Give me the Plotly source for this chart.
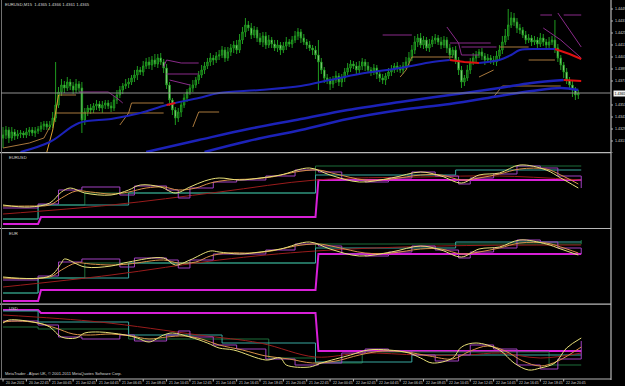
import plotly.graph_objects as go

# ---------------- DATA ----------------
# EURUSD M15 candles (bar index 0..197)
closes = [1.4323,1.4328,1.4320,1.4326,1.4322,1.4324,1.4325,1.4323,1.4326,1.4328,
          1.4325,1.4327,1.4329,1.4332,1.4334,1.4331,1.4333,1.4340,1.4353,1.4366,
          1.4373,1.4370,1.4376,1.4372,1.4368,1.4374,1.4370,1.4338,1.4346,1.4350,
          1.4348,1.4352,1.4354,1.4350,1.4353,1.4355,1.4352,1.4350,1.4358,1.4363,
          1.4368,1.4372,1.4374,1.4376,1.4380,1.4383,1.4388,1.4386,1.4392,1.4396,
          1.4393,1.4398,1.4394,1.4400,1.4396,1.4390,1.4373,1.4358,1.4348,1.4340,
          1.4346,1.4353,1.4360,1.4366,1.4370,1.4373,1.4378,1.4383,1.4388,1.4392,
          1.4396,1.4400,1.4398,1.4402,1.4403,1.4408,1.4400,1.4406,1.4410,1.4413,
          1.4408,1.4418,1.4426,1.4433,1.4430,1.4423,1.4428,1.4420,1.4416,1.4422,
          1.4413,1.4418,1.4414,1.4410,1.4413,1.4408,1.4412,1.4416,1.4414,1.4418,
          1.4422,1.4426,1.4420,1.4416,1.4413,1.4410,1.4408,1.4403,1.4396,1.4388,
          1.4380,1.4378,1.4374,1.4378,1.4382,1.4376,1.4380,1.4386,1.4390,1.4394,
          1.4392,1.4388,1.4392,1.4396,1.4392,1.4388,1.4386,1.4390,1.4384,1.4380,
          1.4378,1.4382,1.4386,1.4388,1.4392,1.4390,1.4388,1.4392,1.4396,1.4400,
          1.4408,1.4416,1.4420,1.4413,1.4418,1.4410,1.4414,1.4418,1.4420,1.4416,
          1.4413,1.4418,1.4410,1.4403,1.4408,1.4398,1.4388,1.4376,1.4380,1.4388,
          1.4396,1.4400,1.4403,1.4406,1.4402,1.4398,1.4400,1.4398,1.4396,1.4402,
          1.4408,1.4416,1.4422,1.4433,1.4440,1.4436,1.4430,1.4428,1.4423,1.4418,
          1.4420,1.4416,1.4418,1.4414,1.4420,1.4416,1.4413,1.4416,1.4418,1.4410,
          1.4400,1.4393,1.4386,1.4378,1.4373,1.4368,1.4363,1.4365]
first_open = 1.4320
wick_up = [8,4,3,5,3,4,3,2,4,3, 3,4,3,4,3,3,4,6,43,5, 6,4,5,3,4,5,3,6,4,3,
           4,3,4,3,4,3,3,4,4,5, 4,3,5,4,3,5,4,3,5,4, 5,4,6,4,5,3,4,3,2,3,
           4,3,4,3,4,5,3,4,5,4, 4,5,3,4,5,4,3,5,4,4, 5,6,5,7,4,5,4,3,5,4,
           4,5,3,4,5,3,4,5,3,4, 5,4,3,4,3,4,3,4,15,4, 3,4,3,4,5,3,4,4,5,4,
           3,4,5,4,3,4,3,4,3,4, 4,3,4,5,3,4,3,4,5,6, 5,6,4,5,4,3,5,4,4,3,
           5,4,3,4,3,4,3,4,3,5, 4,5,4,3,4,3,4,3,4,5, 5,6,7,16,6,5,4,4,3,4,
           4,3,4,3,5,4,3,5,4,20, 4,3,3,4,3,4,3,3]
wick_dn = [10,4,5,3,4,3,4,3,3,4, 3,4,3,3,4,3,3,3,4,3, 4,5,3,4,4,3,4,13,5,4,
           4,3,4,3,5,4,3,4,3,4, 3,4,3,4,3,4,5,3,4,3, 4,5,3,4,3,5,4,6,5,7,
           4,5,3,4,3,4,3,4,3,4, 3,4,5,3,4,3,4,3,4,5, 4,3,4,5,3,4,3,4,3,5,
           4,3,4,3,4,5,3,4,3,4, 3,4,5,3,4,3,5,4,28,4, 5,4,6,4,3,4,5,4,3,4,
           3,4,3,4,5,3,4,3,5,4, 4,5,3,4,3,4,3,4,3,4, 3,4,5,3,4,3,4,3,4,3,
           4,3,5,4,3,4,5,6,4,3, 4,3,4,3,4,5,3,4,3,4, 3,4,3,4,3,4,5,4,3,4,
           3,4,3,4,3,4,3,4,3,5, 4,5,6,4,5,7,5,4]
bid_price = 1.4365

# moving averages on price pane (bar, price)
ma1_x = [6,16,26,37,47,56,67,74,88,102,112,122,136,147,153]
ma1_y = [1.4306,1.4316,1.4335,1.4339,1.4345,1.4353,1.4360,1.4365,1.4368,1.4372,1.4378,1.4384,1.4390,1.4396,1.4398]
ma1r_x = [153,158,163]
ma1r_y = [1.4398,1.4396,1.4395]
ma1b_x = [163,170,174,177,184,189]
ma1b_y = [1.4395,1.4398,1.4403,1.4408,1.4409,1.4409]
ma1e_x = [189,194,198]
ma1e_y = [1.4409,1.4404,1.4399]
ma1s_x = [56,59]
ma1s_y = [1.4353,1.4355]

ma2_x = [49,67,84,102,118,136,153,170,181,192]
ma2_y = [1.4306,1.4318,1.4329,1.4339,1.4348,1.4356,1.4363,1.4370,1.4375,1.4378]
ma2r_x = [192,198]
ma2r_y = [1.4378,1.4377]
ma3_x = [69,84,102,118,136,153,170,181,191,197]
ma3_y = [1.4306,1.4317,1.4328,1.4339,1.4348,1.4354,1.4362,1.4367,1.4370,1.4368]

# step envelopes on price pane (None = gap)
tan_x = [0,9,14,16,None,18,55,None,19,25,None,40,43,44,55,None,65,67,74,None,
         136,138,140,154,None,163,168,None,168,171,191,None,170,180,None,180,189]
tan_y = [1.4310,1.4315,1.4320,1.4331,None,1.4345,1.4345,None,1.4363,1.4363,None,1.4333,1.4345,1.4355,1.4355,None,1.4331,1.4346,1.4346,None,
         1.4381,1.4388,1.4401,1.4401,None,1.4381,1.4388,None,1.4361,1.4372,1.4372,None,1.4411,1.4411,None,1.4398,1.4398]
orange_x = [15,17,19]
orange_y = [1.4306,1.4328,1.4363]
pur_x = [26,36,39,41,None,55,56,61,67,None,56,67,None,57,64,None,
         130,140,None,152,156,157,163,None,153,167,None,157,169,None,184,188,None,190,194,198,None,185,191,198,None,192,198]
pur_y = [1.4366,1.4366,1.4360,1.4355,None,1.4391,1.4398,1.4395,1.4395,None,1.4384,1.4384,None,1.4378,1.4373,None,
         1.4423,1.4423,None,1.4431,1.4415,1.4403,1.4403,None,1.4415,1.4415,None,1.4411,1.4411,None,1.4443,1.4443,None,1.4445,1.4428,1.4411,None,1.4430,1.4418,1.4400,None,1.4443,1.4443]

# indicator sub-panes (arbitrary index units, 0..75)
mag2_x = [0,12,13,107,108,198]; mag2_v = [4,4,11,11,48,48]
teal2_x = [0,12,43,107,155,198]; teal2_v = [9,23,35,53,58,58]
grn2_x = [0,12,28,107,198];      grn2_v = [9,23,35,62,62]
red2_x = [0,37,74,107,143,170,198]; red2_v = [14,23,36,48,51,52,48]
yel2_x = [0,9,16,20,23,28,37,43,47,54,59,64,69,74,81,88,95,105,112,122,133,143,150,157,163,170,177,186,191,197]
yel2_v = [23,21,25,36,40,35,33,38,43,41,35,41,47,50,48,50,53,60,53,46,50,56,52,45,53,55,63,58,50,40]
org2_x = [0,9,16,20,25,30,37,43,49,55,60,66,71,77,85,92,100,108,114,124,133,143,150,157,163,170,177,186,191,197]
org2_v = [22,22,23,30,37,36,34,36,40,41,38,40,45,48,49,51,56,58,54,48,49,53,53,48,50,54,59,59,53,44]
pur2_x = [0,12,19,27,40,45,56,60,64,72,80,90,100,108,116,124,132,140,148,156,160,168,176,184,190,198]
pur2_v = [20,24,38,41,33,42,38,30,40,46,48,52,58,56,48,46,50,56,52,44,50,54,62,60,52,40]

mag3_x = [0,12,13,107,108,198]; mag3_v = [3,3,14,14,50,50]
teal3_x = [0,12,43,107,155,198]; teal3_v = [11,26,41,56,62,62]
grn3_x = [0,12,28,107,198];      grn3_v = [11,26,41,60,64]
red3_x = [0,37,74,107,150,198];  red3_v = [17,29,44,53,58,59]
yel3_x = [0,16,20,21,28,37,43,55,59,64,71,74,81,88,95,105,112,122,133,143,150,157,163,170,177,186,191,197]
yel3_v = [27,28,41,45,37,38,42,46,39,44,53,52,50,52,55,62,55,48,52,58,54,47,55,57,64,60,55,49]
org3_x = [0,16,20,25,30,37,43,55,60,66,71,77,85,92,100,108,114,124,133,143,150,157,163,170,177,186,191,197]
org3_v = [26,27,34,41,40,39,40,44,41,42,48,51,51,53,58,60,57,51,51,55,55,50,52,56,61,61,57,51]
pur3_x = [0,12,19,27,40,45,56,60,64,72,80,90,100,108,116,124,132,140,148,156,160,168,176,184,190,198]
pur3_v = [24,28,42,45,37,46,44,36,44,50,50,54,60,58,50,48,52,58,54,46,52,56,64,62,56,50]

mag4_x = [0,12,13,107,108,198]; mag4_v = [69,69,66,66,28,28]
teal4_x = [0,12,43,75,107,140,198]; teal4_v = [68,57,44,36,17,24,24]
grn4_x = [0,12,43,91,107,123,187,198]; grn4_v = [52,50,40,21,16,27,14,14]
red4_x = [0,33,67,88,107,123,143,159,170,184,198]; red4_v = [64,57,44,36,22,26,24,24,26,21,26]
yel4_x = [0,2,12,16,20,25,28,33,37,42,46,50,55,58,64,70,74,79,90,95,97,105,109,119,125,132,139,143,147,154,157,162,170,175,180,184,189,193,198]
yel4_v = [56,59,56,52,42,41,46,47,46,44,41,37,44,46,42,36,31,29,19,21,14,12,16,24,29,29,26,21,16,21,32,36,29,16,9,11,16,31,41]
org4_x = [0,5,12,18,24,30,37,44,50,56,62,68,74,82,90,98,106,114,122,130,138,146,154,160,166,172,178,184,190,198]
org4_v = [57,58,56,51,45,44,45,43,40,42,43,40,34,29,23,20,16,18,24,28,27,23,20,28,33,28,18,13,18,32]
pur4_x = [0,12,19,27,40,45,56,60,64,72,80,90,100,108,116,124,132,140,148,156,160,168,176,184,190,198]
pur4_v = [58,54,42,40,44,38,44,48,42,34,30,20,14,16,26,30,28,24,18,24,34,30,14,10,20,38]

# axis labels
price_ticks = [1.4449,1.4437,1.4425,1.4413,1.4401,1.4389,1.4377,1.4353,1.4341,1.4329,1.4317,1.4305]
time_ticks = [0,8,16,24,32,40,48,56,64,72,80,88,96,104,112,120,128,136,144,152,160,168,176,184,192]
time_labels = ["20 Jun 2011","20 Jun 22:45","21 Jun 00:45","21 Jun 02:45","21 Jun 04:45","21 Jun 06:45",
               "21 Jun 08:45","21 Jun 10:45","21 Jun 12:45","21 Jun 14:45","21 Jun 16:45","21 Jun 18:45",
               "21 Jun 20:45","21 Jun 22:45","22 Jun 00:45","22 Jun 02:45","22 Jun 04:45","22 Jun 06:45",
               "22 Jun 08:45","22 Jun 10:45","22 Jun 12:45","22 Jun 14:45","22 Jun 16:45","22 Jun 18:45",
               "22 Jun 20:45"]
title_text = "EURUSD,M15  1.4365 1.4366 1.4361 1.4365"

# ---------------- FIGURE ----------------
W, H = 625, 386
bars = list(range(len(closes)))
opens = [first_open] + closes[:-1]
highs = [max(o, c) + u / 10000 for o, c, u in zip(opens, closes, wick_up)]
lows = [min(o, c) - d / 10000 for o, c, d in zip(opens, closes, wick_dn)]

fig = go.Figure()
fig.add_trace(go.Candlestick(
    x=bars, open=opens, high=highs, low=lows, close=closes, xaxis="x", yaxis="y",
    increasing=dict(line=dict(color="#1f9a1f", width=1), fillcolor="#0b3d0b"),
    decreasing=dict(line=dict(color="#1f9a1f", width=1), fillcolor="#d8f5c8"),
    whiskerwidth=0, showlegend=False, hoverinfo="skip"))

def line(x, y, color, width, yaxis="y", shape="linear"):
    fig.add_trace(go.Scatter(x=x, y=y, mode="lines", xaxis="x", yaxis=yaxis,
                             line=dict(color=color, width=width, shape=shape),
                             showlegend=False, hoverinfo="skip", connectgaps=False))

TAN = "#a8783c"
PUR = "#8a2a8a"
line(tan_x, tan_y, TAN, 1)
line(orange_x, orange_y, "#e0a030", 1)
line(pur_x, pur_y, PUR, 1)
BLUE = "#1c22b8"
line(ma3_x, ma3_y, BLUE, 2.5, shape="spline")
line(ma2_x, ma2_y, BLUE, 2.5, shape="spline")
line(ma2r_x, ma2r_y, "#e01010", 2)
line(ma1_x, ma1_y, BLUE, 2, shape="spline")
line(ma1s_x, ma1s_y, "#e01010", 2)
line(ma1r_x, ma1r_y, "#e01010", 2)
line(ma1b_x, ma1b_y, BLUE, 2, shape="spline")
line(ma1e_x, ma1e_y, "#e01010", 2)

def pane(ax, mag, teal, grn, red, yel, org, pur):
    line(mag[0], mag[1], "#d820d8", 2, ax)
    line(grn[0], grn[1], "#1d6e3a", 1, ax, "hv")
    line(teal[0], teal[1], "#38a8a0", 1, ax, "hv")
    line(red[0], red[1], "#9a1c1c", 1, ax, "spline")
    line(pur[0], pur[1], "#a040c0", 1, ax, "hv")
    line(org[0], org[1], "#d89048", 1, ax, "spline")
    line(yel[0], yel[1], "#e8e078", 1, ax, "spline")

pane("y2", (mag2_x, mag2_v), (teal2_x, teal2_v), (grn2_x, grn2_v), (red2_x, red2_v), (yel2_x, yel2_v), (org2_x, org2_v), (pur2_x, pur2_v))
pane("y3", (mag3_x, mag3_v), (teal3_x, teal3_v), (grn3_x, grn3_v), (red3_x, red3_v), (yel3_x, yel3_v), (org3_x, org3_v), (pur3_x, pur3_v))
pane("y4", (mag4_x, mag4_v), (teal4_x, teal4_v), (grn4_x, grn4_v), (red4_x, red4_v), (yel4_x, yel4_v), (org4_x, org4_v), (pur4_x, pur4_v))

def py(px):
    return 1 - px / H

XR = 611 / W
hidden = dict(visible=False, showgrid=False, zeroline=False, fixedrange=True)
fig.update_layout(
    width=W, height=H, margin=dict(l=0, r=0, t=0, b=0),
    paper_bgcolor="#000000", plot_bgcolor="#000000",
    xaxis=dict(domain=[1 / W, XR], range=[-0.7, 208.2], rangeslider=dict(visible=False), **hidden),
    yaxis=dict(domain=[py(152.7), py(2)], range=[1.43053, 1.4456], **hidden),
    yaxis2=dict(domain=[py(228), py(153)], range=[0, 75], **hidden),
    yaxis3=dict(domain=[py(304), py(229)], range=[0, 75], **hidden),
    yaxis4=dict(domain=[py(379), py(304)], range=[0, 75], **hidden),
)

FONT = "Liberation Sans Narrow, Liberation Sans, Arial"
TXT = "#d8d8d8"
shapes = []
ann = []
for yy in [152.7, 228.5, 304.2, 379]:
    shapes.append(dict(type="line", xref="paper", yref="paper", x0=0, x1=XR, y0=py(yy), y1=py(yy),
                       line=dict(color="#b8b8b8", width=1.2)))
shapes.append(dict(type="line", xref="paper", yref="paper", x0=XR, x1=XR, y0=py(380), y1=1,
                   line=dict(color="#b8b8b8", width=1.2)))
shapes.append(dict(type="line", xref="paper", yref="paper", x0=1.5 / W, x1=1.5 / W, y0=py(379), y1=1,
                   line=dict(color="#707070", width=1)))
shapes.append(dict(type="line", xref="paper", yref="y", x0=1 / W, x1=XR, y0=bid_price, y1=bid_price,
                   line=dict(color="#909090", width=1)))
for p in price_ticks:
    shapes.append(dict(type="line", xref="paper", yref="y", x0=XR, x1=613 / W, y0=p, y1=p,
                       line=dict(color="#b8b8b8", width=1)))
    ann.append(dict(x=613 / W, y=p, xref="paper", yref="y", text=f"{p:.4f}", showarrow=False,
                    xanchor="left", yanchor="middle", font=dict(family=FONT, size=3.6, color=TXT)))
ann.append(dict(x=612.5 / W, y=bid_price, xref="paper", yref="y", text=f"{bid_price:.4f}", showarrow=False,
                xanchor="left", yanchor="middle", bgcolor="#f0f0f0", borderpad=0.5,
                font=dict(family=FONT, size=3.6, color="#000000")))
for t, lab in zip(time_ticks, time_labels):
    shapes.append(dict(type="line", xref="x", yref="paper", x0=t, x1=t, y0=py(379), y1=py(381.5),
                       line=dict(color="#b8b8b8", width=1)))
    ann.append(dict(x=t, y=py(383), xref="x", yref="paper", text=lab, showarrow=False,
                    xanchor="left", yanchor="middle", xshift=0.5, font=dict(family=FONT, size=3.4, color=TXT)))
ann.append(dict(x=3 / W, y=py(4), xref="paper", yref="paper", text=title_text, showarrow=False,
                xanchor="left", yanchor="middle", font=dict(family=FONT, size=4.2, color=TXT)))
for lab, yy in [("EURUSD", 157.5), ("EUR", 233), ("USD", 308.5)]:
    ann.append(dict(x=7 / W, y=py(yy), xref="paper", yref="paper", text=lab, showarrow=False,
                    xanchor="left", yanchor="middle", font=dict(family=FONT, size=4.2, color=TXT)))
ann.append(dict(x=3 / W, y=py(373), xref="paper", yref="paper",
                text="MetaTrader - Alpari UK, © 2001-2011 MetaQuotes Software Corp.", showarrow=False,
                xanchor="left", yanchor="middle", font=dict(family=FONT, size=4.0, color=TXT)))
fig.update_layout(shapes=shapes, annotations=ann)
fig.write_html("out.html")
